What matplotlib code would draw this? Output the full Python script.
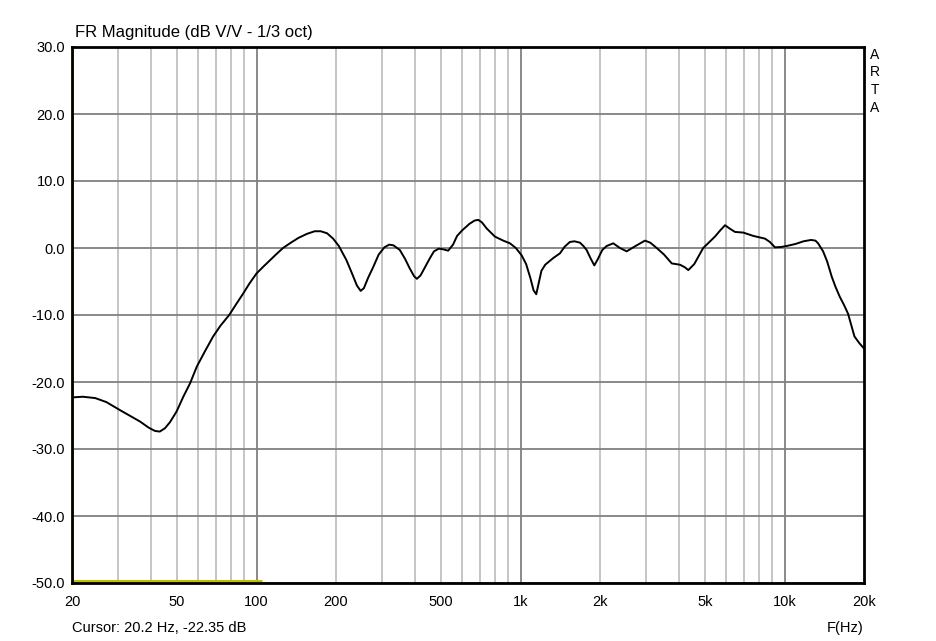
import numpy as np
import matplotlib
matplotlib.use("Agg")
import matplotlib.pyplot as plt
from matplotlib.ticker import FixedLocator, NullLocator

plt.rcParams["font.family"] = ["Liberation Sans", "DejaVu Sans"]

# ── data ─────────────────────────────────────────────────────────────────────
freq_hz = [20, 22, 24.5, 27, 30.4, 33, 36.2, 39, 41.2, 43, 45.0, 47, 49.8,
           52.8, 56.0, 59.4, 64, 68.5, 73, 78.8, 84, 89, 94, 100, 106, 112.6,
           119, 126, 135, 144, 155, 166, 175, 185, 195, 205, 219, 230, 240,
           248, 255, 265, 277, 290, 305, 318, 330, 349, 365, 380, 395, 405,
           418, 430, 454, 470, 490, 510, 532, 555, 575, 600, 640, 670, 692,
           715, 745, 800, 860, 912, 960, 1010, 1050, 1090, 1120, 1147, 1175,
           1200, 1240, 1330, 1410, 1470, 1538, 1600, 1679, 1730, 1780, 1840,
           1903, 1960, 2040, 2120, 2245, 2380, 2524, 2700, 2960, 3100, 3280,
           3500, 3740, 4020, 4200, 4320, 4550, 4920, 5450, 5700, 5950, 6200,
           6490, 6980, 7620, 8430, 8800, 9200, 9700, 10190, 11000, 11800,
           12600, 13100, 13400, 14000, 14500, 15100, 15600, 16200, 16800,
           17400, 17900, 18400, 19200, 20000]
mag_db = [-22.3, -22.2, -22.4, -23.0, -24.2, -25.0, -25.9, -26.8, -27.3,
          -27.4, -26.9, -26.0, -24.4, -22.2, -20.2, -17.7, -15.3, -13.2,
          -11.6, -10.0, -8.3, -6.8, -5.3, -3.8, -2.8, -1.8, -0.9, 0.0, 0.8,
          1.5, 2.1, 2.5, 2.5, 2.2, 1.4, 0.3, -1.8, -3.8, -5.6, -6.4, -6.0,
          -4.4, -2.8, -1.0, 0.1, 0.5, 0.4, -0.3, -1.6, -3.0, -4.2, -4.6, -4.1,
          -3.2, -1.5, -0.5, -0.1, -0.2, -0.4, 0.5, 1.8, 2.6, 3.6, 4.1, 4.2,
          3.8, 2.9, 1.7, 1.1, 0.7, 0.0, -1.1, -2.4, -4.5, -6.3, -6.9, -5.0,
          -3.4, -2.5, -1.5, -0.8, 0.2, 0.9, 1.0, 0.8, 0.3, -0.3, -1.5, -2.6,
          -1.7, -0.3, 0.3, 0.7, 0.0, -0.5, 0.2, 1.1, 0.8, 0.0, -1.0, -2.3,
          -2.5, -2.9, -3.3, -2.4, 0.0, 1.7, 2.6, 3.4, 2.9, 2.4, 2.3, 1.8, 1.4,
          0.9, 0.1, 0.15, 0.3, 0.6, 1.0, 1.2, 1.1, 0.7, -0.5, -2.0, -4.3,
          -5.8, -7.3, -8.5, -9.8, -11.5, -13.2, -14.2, -15.0]

# yellow reference marker at the bottom and cursor line
ref_freq = [20, 105]
ref_db = [-49.7, -49.7]
cursor_hz = 20.2

minor_grid = [30, 40, 50, 60, 70, 80, 90,
              200, 300, 400, 500, 600, 700, 800, 900,
              2000, 3000, 4000, 5000, 6000, 7000, 8000, 9000]
major_grid = [100, 1000, 10000]
x_ticks = [20, 50, 100, 200, 500, 1000, 2000, 5000, 10000, 20000]
x_labels = ["20", "50", "100", "200", "500", "1k", "2k", "5k", "10k", "20k"]
y_ticks = [30, 20, 10, 0, -10, -20, -30, -40, -50]

# ── figure ──────────────────────────────────────────────────────────────────
fig = plt.figure(figsize=(9.37, 6.41), dpi=100)
ax = fig.add_axes([72 / 937, 1 - 583 / 641, 792 / 937, 536 / 641])

ax.set_xscale("log")
ax.set_xlim(20, 20000)
ax.set_ylim(-50, 30)

for f in minor_grid:
    ax.axvline(f, color="#c0c0c0", lw=1.3, zorder=1)
for f in major_grid:
    ax.axvline(f, color="#808080", lw=1.3, zorder=1)
for y in y_ticks:
    ax.axhline(y, color="#808080", lw=1.3, zorder=1)

ax.plot(ref_freq, ref_db, color="#c0c000", lw=2.2, zorder=2,
        solid_capstyle="butt")
ax.axvline(cursor_hz, color="#c0c000", lw=1.2, zorder=2)
ax.plot(freq_hz, mag_db, color="black", lw=1.4, zorder=3,
        solid_joinstyle="round")

ax.xaxis.set_major_locator(FixedLocator(x_ticks))
ax.xaxis.set_minor_locator(NullLocator())
ax.set_xticklabels(x_labels)
ax.set_yticks(y_ticks)
ax.set_yticklabels([f"{v:.1f}" for v in y_ticks])
ax.tick_params(axis="both", length=0, labelsize=10.5, colors="black")
ax.tick_params(axis="x", pad=9)
ax.tick_params(axis="y", pad=5)

for s in ax.spines.values():
    s.set_linewidth(2)
    s.set_color("black")
    s.set_zorder(4)

fig.text(75 / 937, 1 - 33 / 641, "FR Magnitude (dB V/V - 1/3 oct)",
         fontsize=12, ha="left", va="center")
fig.text(72 / 937, 1 - 628 / 641, "Cursor: 20.2 Hz, -22.35 dB",
         fontsize=10.5, ha="left", va="center")
fig.text(845 / 937, 1 - 628 / 641, "F(Hz)",
         fontsize=10.5, ha="center", va="center")
for i, ch in enumerate("ARTA"):
    fig.text(875 / 937, 1 - (55 + i * 17.5) / 641, ch,
             fontsize=10, ha="center", va="center")

fig.savefig("out.png", dpi=100)
plt.close(fig)
